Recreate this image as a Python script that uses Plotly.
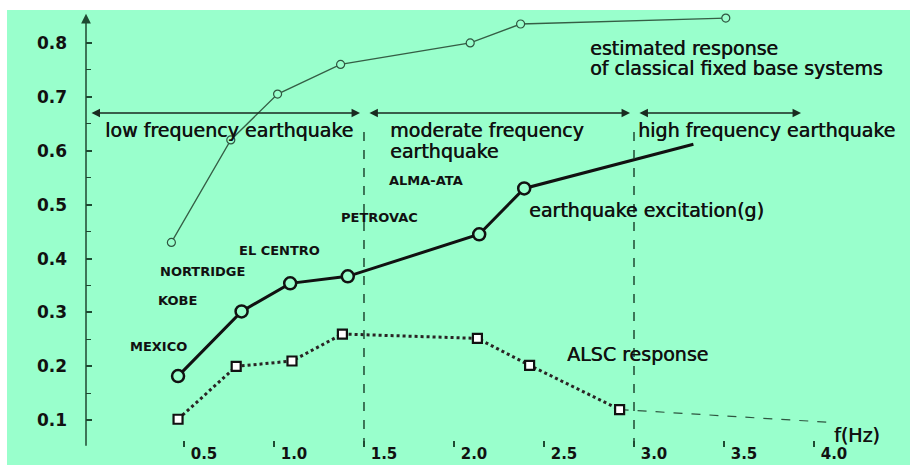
import plotly.graph_objects as go

# ---------------- data ----------------
freq_est = [0.43, 0.76, 1.02, 1.37, 2.09, 2.37, 3.51]
resp_est = [0.43, 0.62, 0.705, 0.76, 0.80, 0.835, 0.846]

freq_exc = [0.467, 0.82, 1.09, 1.41, 2.14, 2.39]
resp_exc = [0.182, 0.302, 0.354, 0.367, 0.445, 0.53]
exc_trend_end = [3.33, 0.612]

freq_alsc = [0.467, 0.79, 1.10, 1.38, 2.13, 2.42, 2.92]
resp_alsc = [0.102, 0.20, 0.21, 0.26, 0.252, 0.202, 0.12]
alsc_extrap_end = [4.10, 0.096]

band_edges = [0.0, 1.5, 3.0, 3.95]
band_names = ["low frequency earthquake", "moderate frequency", "high frequency earthquake"]

quake_names = ["ALMA-ATA", "PETROVAC", "EL CENTRO", "NORTRIDGE", "KOBE", "MEXICO"]

x_ticks = [0.5, 1.0, 1.5, 2.0, 2.5, 3.0, 3.5, 4.0]
x_tick_text = ["0.5", "1.0", "1.5", "2.0", "2.5", "3.0", "3.5", "4.0"]
y_ticks = [0.1, 0.2, 0.3, 0.4, 0.5, 0.6, 0.7, 0.8]
y_tick_text = ["0.1", "0.2", "0.3", "0.4", "0.5", "0.6", "0.7", "0.8"]
y_minor = [0.15, 0.25, 0.35, 0.45, 0.55, 0.65, 0.75]

# ---------------- style ----------------
BG = "#99FFCC"
AX = "#1f4a32"
TXT = "#111111"
FONT = "DejaVu Sans"

XR = [-0.0444, 4.2]
YR = [0.0505, 0.861]

fig = go.Figure()

# estimated response of fixed base systems
fig.add_trace(go.Scatter(
    x=freq_est, y=resp_est, mode="lines+markers",
    line=dict(color="#355e45", width=1.3),
    marker=dict(symbol="circle", size=8, color=BG, line=dict(color="#2f5540", width=1.2)),
    showlegend=False, hoverinfo="skip"))

# earthquake excitation
fig.add_trace(go.Scatter(
    x=freq_exc + [exc_trend_end[0]], y=resp_exc + [exc_trend_end[1]], mode="lines",
    line=dict(color=TXT, width=3), showlegend=False, hoverinfo="skip"))
fig.add_trace(go.Scatter(
    x=freq_exc, y=resp_exc, mode="markers",
    marker=dict(symbol="circle", size=12, color=BG, line=dict(color=TXT, width=2.5)),
    showlegend=False, hoverinfo="skip"))

# ALSC extrapolation (thin dashed)
fig.add_trace(go.Scatter(
    x=[freq_alsc[-1], alsc_extrap_end[0]], y=[resp_alsc[-1], alsc_extrap_end[1]],
    mode="lines", line=dict(color="#2f5540", width=1.2, dash="dash"),
    showlegend=False, hoverinfo="skip"))

# ALSC response
fig.add_trace(go.Scatter(
    x=freq_alsc, y=resp_alsc, mode="lines",
    line=dict(color="#2a2424", width=3, dash="dot"),
    showlegend=False, hoverinfo="skip"))
fig.add_trace(go.Scatter(
    x=freq_alsc, y=resp_alsc, mode="markers",
    marker=dict(symbol="square", size=9, color="white", line=dict(color=TXT, width=2.2)),
    showlegend=False, hoverinfo="skip"))

annotations = []

# axes with arrow heads
annotations.append(dict(x=XR[0], y=0.854, ax=XR[0], ay=YR[0] - 0.0005, xref="x", yref="y",
                        axref="x", ayref="y", text="", showarrow=True, arrowhead=2,
                        arrowsize=1.3, arrowwidth=1.5, arrowcolor=AX))
annotations.append(dict(x=4.17, y=YR[0] - 0.0005, ax=XR[0], ay=YR[0] - 0.0005, xref="x", yref="y",
                        axref="x", ayref="y", text="", showarrow=True, arrowhead=2,
                        arrowsize=1.3, arrowwidth=1.5, arrowcolor=AX))

# region double arrows
arrow_y = 0.670
gap = 0.022
for i in range(3):
    a, b = band_edges[i], band_edges[i + 1]
    x0 = a + gap if i > 0 else a - 0.022
    x1 = b - gap
    annotations.append(dict(x=x1, y=arrow_y, ax=x0, ay=arrow_y, xref="x", yref="y",
                            axref="x", ayref="y", text="", showarrow=True,
                            arrowhead=2, startarrowhead=2, arrowside="end+start",
                            arrowsize=1.3, startarrowsize=1.3,
                            arrowwidth=1.3, arrowcolor="#1a2a20"))

def label(x, y, text, size=19, bold=False, xanchor="left"):
    f = dict(family=FONT, size=size, color=TXT, weight="bold" if bold else "normal")
    if not bold:
        f["shadow"] = "0.5px 0px 0px #111111"
    annotations.append(dict(x=x, y=y, xref="x", yref="y", text=text, showarrow=False,
                            xanchor=xanchor, yanchor="middle", font=f))

label(0.05, 0.638, band_names[0])
label(1.633, 0.638, band_names[1])
label(1.633, 0.600, "earthquake")
label(3.011, 0.638, band_names[2])
label(2.744, 0.790, "estimated response")
label(2.744, 0.753, "of classical fixed base systems")
label(2.406, 0.490, "earthquake excitation(g)")
label(2.617, 0.2225, "ALSC response")
label(4.10, 0.072, "f(Hz)")

name_pos = [(1.628, 0.5456), (1.361, 0.477), (0.794, 0.4156),
            (0.356, 0.3767), (0.344, 0.3228), (0.189, 0.2374)]
for n, (px, py) in zip(quake_names, name_pos):
    label(px, py, n, size=13, bold=True)

shapes = []
# green background
shapes.append(dict(type="rect", xref="paper", yref="paper",
                   x0=(7 - 86) / 764, x1=1.2, y0=-0.2, y1=1.0,
                   fillcolor=BG, line=dict(width=0), layer="below"))
# boundary lines
for xb in band_edges[1:3]:
    shapes.append(dict(type="line", xref="x", yref="y", x0=xb, x1=xb, y0=YR[0], y1=0.648,
                       line=dict(color=AX, width=1.5, dash="dash")))

fig.update_layout(
    width=910, height=465,
    margin=dict(l=86, r=60, t=10, b=18, autoexpand=False),
    paper_bgcolor="white", plot_bgcolor=BG,
    annotations=annotations, shapes=shapes,
    xaxis=dict(range=XR, showgrid=False, zeroline=False, showline=False, automargin=False,
               tickvals=x_ticks, ticktext=x_tick_text, ticks="inside", ticklen=6,
               tickcolor=AX, tickwidth=1.5, ticklabelshift=20, ticklabelstandoff=-4,
               tickfont=dict(family=FONT, size=15, color=TXT, weight="bold")),
    yaxis=dict(range=YR, showgrid=False, zeroline=False, showline=False, automargin=False,
               tickvals=y_ticks, ticktext=y_tick_text, ticks="inside", ticklen=6,
               tickcolor=AX, tickwidth=1.5, ticklabelstandoff=18,
               tickfont=dict(family=FONT, size=17, color=TXT, weight="bold"),
               minor=dict(tickvals=y_minor, ticks="inside", ticklen=5, tickcolor=AX, tickwidth=1.2)),
)

fig.write_html("out.html", config={"displayModeBar": False},
               post_script="document.body.style.margin='0px';")
